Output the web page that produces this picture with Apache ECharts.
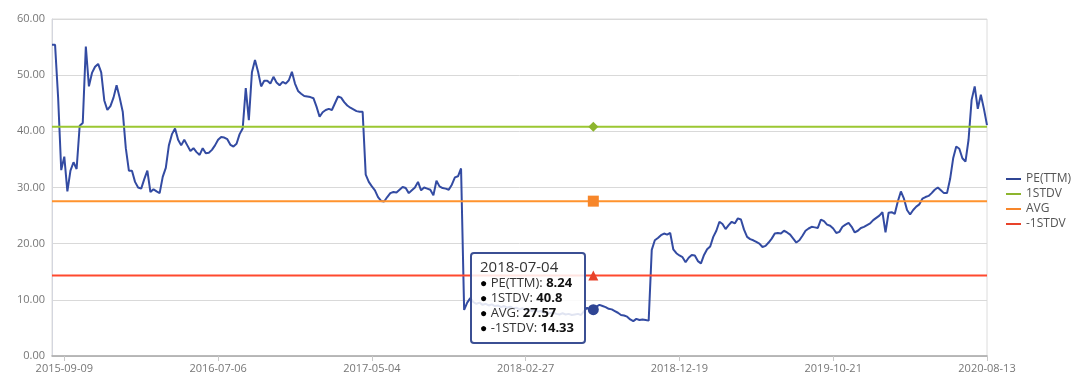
<!DOCTYPE html>
<html><head><meta charset="utf-8">
<script src="https://cdn.jsdelivr.net/npm/echarts@6/dist/echarts.min.js"></script>
<style>html,body{margin:0;padding:0;background:#fff}#c{width:1080px;height:385px}</style>
</head><body><div id="c"></div>
<script>
const dates = [
'2015-08-18','2015-08-24','2015-08-28','2015-09-02','2015-09-09','2015-09-15','2015-09-21','2015-09-27','2015-10-03','2015-10-09',
'2015-10-15','2015-10-21','2015-10-27','2015-11-02','2015-11-08','2015-11-14','2015-11-20','2015-11-26','2015-12-02','2015-12-08',
'2015-12-14','2015-12-20','2015-12-26','2016-01-01','2016-01-07','2016-01-13','2016-01-19','2016-01-25','2016-01-31','2016-02-06',
'2016-02-12','2016-02-18','2016-02-24','2016-03-01','2016-03-07','2016-03-13','2016-03-19','2016-03-25','2016-03-31','2016-04-06',
'2016-04-12','2016-04-18','2016-04-24','2016-04-30','2016-05-06','2016-05-12','2016-05-18','2016-05-24','2016-05-30','2016-06-05',
'2016-06-11','2016-06-17','2016-06-23','2016-06-29','2016-07-06','2016-07-12','2016-07-18','2016-07-24','2016-07-30','2016-08-05',
'2016-08-11','2016-08-17','2016-08-23','2016-08-29','2016-09-04','2016-09-10','2016-09-16','2016-09-22','2016-09-28','2016-10-04',
'2016-10-10','2016-10-16','2016-10-22','2016-10-28','2016-11-03','2016-11-09','2016-11-15','2016-11-21','2016-11-27','2016-12-03',
'2016-12-09','2016-12-15','2016-12-21','2016-12-27','2017-01-02','2017-01-08','2017-01-14','2017-01-20','2017-01-26','2017-02-01',
'2017-02-07','2017-02-13','2017-02-19','2017-02-25','2017-03-03','2017-03-09','2017-03-15','2017-03-21','2017-03-27','2017-04-02',
'2017-04-08','2017-04-14','2017-04-20','2017-04-26','2017-05-04','2017-05-10','2017-05-16','2017-05-22','2017-05-28','2017-06-03',
'2017-06-09','2017-06-15','2017-06-21','2017-06-27','2017-07-03','2017-07-09','2017-07-15','2017-07-21','2017-07-27','2017-08-02',
'2017-08-08','2017-08-14','2017-08-20','2017-08-26','2017-09-01','2017-09-07','2017-09-13','2017-09-19','2017-09-25','2017-10-01',
'2017-10-07','2017-10-13','2017-10-19','2017-10-25','2017-10-31','2017-11-06','2017-11-12','2017-11-18','2017-11-24','2017-11-30',
'2017-12-06','2017-12-12','2017-12-18','2017-12-24','2017-12-30','2018-01-05','2018-01-11','2018-01-17','2018-01-23','2018-01-29',
'2018-02-04','2018-02-10','2018-02-16','2018-02-22','2018-02-27','2018-03-05','2018-03-11','2018-03-17','2018-03-23','2018-03-29',
'2018-04-04','2018-04-10','2018-04-16','2018-04-22','2018-04-28','2018-05-04','2018-05-10','2018-05-16','2018-05-22','2018-05-28',
'2018-06-03','2018-06-09','2018-06-14','2018-06-19','2018-06-24','2018-06-29','2018-07-04','2018-07-10','2018-07-16','2018-07-22',
'2018-07-28','2018-08-03','2018-08-09','2018-08-15','2018-08-21','2018-08-27','2018-09-02','2018-09-08','2018-09-14','2018-09-20',
'2018-09-26','2018-10-02','2018-10-08','2018-10-14','2018-10-20','2018-10-26','2018-11-01','2018-11-07','2018-11-13','2018-11-19',
'2018-11-25','2018-12-01','2018-12-07','2018-12-13','2018-12-19','2018-12-25','2018-12-31','2019-01-06','2019-01-12','2019-01-18',
'2019-01-24','2019-01-30','2019-02-05','2019-02-11','2019-02-17','2019-02-23','2019-03-01','2019-03-07','2019-03-13','2019-03-19',
'2019-03-25','2019-03-31','2019-04-06','2019-04-12','2019-04-18','2019-04-24','2019-04-30','2019-05-06','2019-05-12','2019-05-18',
'2019-05-24','2019-05-30','2019-06-05','2019-06-11','2019-06-17','2019-06-23','2019-06-29','2019-07-05','2019-07-11','2019-07-17',
'2019-07-23','2019-07-29','2019-08-04','2019-08-10','2019-08-16','2019-08-22','2019-08-28','2019-09-03','2019-09-09','2019-09-16',
'2019-09-23','2019-09-30','2019-10-07','2019-10-14','2019-10-21','2019-10-27','2019-11-02','2019-11-08','2019-11-14','2019-11-20',
'2019-11-26','2019-12-02','2019-12-08','2019-12-14','2019-12-20','2019-12-26','2020-01-01','2020-01-07','2020-01-13','2020-01-19',
'2020-01-25','2020-01-31','2020-02-06','2020-02-12','2020-02-18','2020-02-24','2020-03-01','2020-03-07','2020-03-13','2020-03-19',
'2020-03-25','2020-03-31','2020-04-06','2020-04-12','2020-04-18','2020-04-24','2020-04-30','2020-05-06','2020-05-12','2020-05-18',
'2020-05-24','2020-05-30','2020-06-05','2020-06-11','2020-06-17','2020-06-23','2020-06-29','2020-07-05','2020-07-11','2020-07-17',
'2020-07-23','2020-07-29','2020-08-03','2020-08-08','2020-08-13'
];

const tickLabels = ['2015-09-09','2016-07-06','2017-05-04','2018-02-27','2018-12-19','2019-10-21','2020-08-13'];

const pe = [
55.4, 55.4, 45.9, 33.1, 35.5, 29.3, 33.0, 34.5, 33.3, 41.0,
41.5, 55.1, 48.0, 50.4, 51.5, 52.0, 50.5, 45.5, 43.8, 44.5,
46.0, 48.2, 46.0, 43.5, 37.0, 33.0, 33.0, 31.0, 30.0, 29.8,
31.5, 33.0, 29.2, 29.7, 29.3, 29.0, 31.9, 33.5, 37.5, 39.5,
40.5, 38.5, 37.5, 38.5, 37.5, 36.5, 37.0, 36.3, 35.8, 37.0,
36.1, 36.2, 36.7, 37.5, 38.5, 39.0, 38.9, 38.6, 37.6, 37.3,
37.8, 39.5, 40.5, 47.7, 42.0, 50.5, 52.7, 50.6, 48.0, 49.0,
49.0, 48.5, 49.7, 48.7, 48.2, 48.8, 48.5, 49.1, 50.6, 48.5,
47.2, 46.7, 46.3, 46.2, 46.1, 45.9, 44.4, 42.6, 43.4, 43.8,
44.0, 43.8, 45.0, 46.2, 46.0, 45.2, 44.6, 44.2, 43.9, 43.6,
43.5, 43.5, 32.3, 31.0, 30.2, 29.5, 28.3, 27.6, 27.5, 28.3,
29.0, 29.2, 29.1, 29.6, 30.1, 29.9, 29.0, 29.5, 30.0, 31.0,
29.5, 30.0, 29.8, 29.6, 28.6, 31.2, 30.2, 29.9, 29.8, 29.6,
30.5, 31.8, 32.0, 33.4, 8.2, 9.5, 10.3, 9.6, 9.3, 9.5,
9.1, 9.3, 9.0, 9.2, 8.9, 9.0, 8.7, 8.9, 8.6, 8.8,
8.5, 8.6, 8.3, 8.5, 8.2, 8.3, 8.0, 8.2, 7.9, 8.0,
7.7, 7.8, 7.6, 7.7, 7.5, 7.4, 7.6, 7.4, 7.5, 7.3,
7.4, 7.5, 7.3, 8.0, 8.6, 8.0, 8.24, 8.8, 9.1, 8.9,
8.7, 8.4, 8.3, 8.0, 7.7, 7.3, 7.2, 7.0, 6.5, 6.2,
6.6, 6.4, 6.5, 6.4, 6.3, 18.9, 20.6, 21.0, 21.5, 21.8,
21.6, 21.9, 19.0, 18.3, 17.9, 17.6, 16.7, 17.5, 18.0, 17.9,
16.9, 16.5, 18.0, 19.0, 19.5, 21.2, 22.3, 23.9, 23.5, 22.6,
23.3, 23.9, 23.6, 24.5, 24.3, 22.5, 21.2, 20.8, 20.6, 20.3,
20.0, 19.4, 19.6, 20.2, 20.9, 21.8, 21.9, 21.8, 22.3, 22.0,
21.6, 20.9, 20.2, 20.6, 21.4, 22.3, 22.7, 23.0, 22.9, 22.8,
24.3, 24.0, 23.4, 23.2, 22.7, 21.9, 22.1, 23.0, 23.4, 23.7,
23.0, 22.0, 22.3, 22.8, 23.0, 23.3, 23.6, 24.2, 24.6, 25.0,
25.6, 22.0, 25.5, 25.6, 25.3, 27.5, 29.3, 28.0, 26.0, 25.2,
26.0, 26.6, 27.0, 28.0, 28.3, 28.5, 29.0, 29.6, 30.0, 29.5,
29.0, 29.0, 31.5, 35.2, 37.3, 36.9, 35.2, 34.6, 38.5, 45.6,
48.0, 44.0, 46.5, 44.0, 41.1
];

const stdUp = 40.8;
const avgVal = 27.57;
const stdDown = 14.33;
const seriesNames = ['PE(TTM)', '1STDV', 'AVG', '-1STDV'];
const yTicks = [0, 10, 20, 30, 40, 50, 60];
const tipDate = '2018-07-04';

const colors = ['#2f4594', '#8db52e', '#f7862a', '#e8432a'];
const symbols = ['circle', 'diamond', 'rect', 'triangle'];
const seriesData = [pe, dates.map(() => stdUp), dates.map(() => avgVal), dates.map(() => stdDown)];

const chart = echarts.init(document.getElementById('c'), null, {renderer: 'canvas'});
const font = "'Open Sans', 'Noto Sans', sans-serif";
const cssFont = font.replace(/'/g, '');

chart.setOption({
  animation: false,
  backgroundColor: '#ffffff',
  grid: {left: 52, right: 93, top: 19, bottom: 29, show: true, borderColor: '#dcdcdc', borderWidth: 1},
  legend: {
    orient: 'vertical', left: 1001, top: 168,
    icon: 'rect', itemWidth: 15, itemHeight: 2, itemGap: 3,
    textStyle: {color: '#555', fontSize: 12, fontFamily: font, lineHeight: 12},
    data: seriesNames
  },
  tooltip: {
    trigger: 'axis',
    triggerOn: 'none',
    alwaysShowContent: true,
    transitionDuration: 0,
    position: [470, 252],
    backgroundColor: 'rgba(255,255,255,0.85)',
    borderColor: '#3b4f93',
    borderWidth: 2,
    padding: [3, 10, 7, 8],
    extraCssText: 'box-shadow:none;border-radius:4px;',
    axisPointer: {type: 'line', animation: false, lineStyle: {opacity: 0}},
    formatter: function (params) {
      let s = '<div style="font-family:' + cssFont + ';font-size:15px;line-height:18px;color:#333;">' + params[0].axisValue + '</div>';
      params.forEach(function (p) {
        s += '<div style="font-family:' + cssFont + ';font-size:13px;line-height:15px;color:#333;">' +
          '<span style="font-size:12px;color:#000;">\u25CF</span> ' + p.seriesName + ': <b style="color:#111">' + p.value + '</b></div>';
      });
      return s;
    }
  },
  xAxis: {
    type: 'category',
    boundaryGap: false,
    data: dates,
    axisLine: {lineStyle: {color: '#a9a9a9', width: 1.5}},
    axisTick: {alignWithLabel: true, length: 5, lineStyle: {color: '#c8c8c8'},
      interval: function (i, v) { return tickLabels.indexOf(v) >= 0; }},
    axisLabel: {
      interval: function (i, v) { return tickLabels.indexOf(v) >= 0; },
      color: '#777', fontSize: 11, fontFamily: font, margin: 7
    },
    splitLine: {show: false}
  },
  yAxis: {
    type: 'value',
    min: yTicks[0], max: yTicks[yTicks.length - 1], interval: 10,
    axisLine: {show: true, lineStyle: {color: '#d4d6de'}},
    axisTick: {show: false},
    axisLabel: {color: '#777', fontSize: 11, fontFamily: font, margin: 7,
      formatter: function (v) { return v.toFixed(2); }},
    splitLine: {lineStyle: {color: '#d9d9d9'}}
  },
  series: seriesNames.map(function (name, k) {
    return {
      name: name,
      type: 'line',
      data: seriesData[k],
      showSymbol: false,
      symbol: symbols[k],
      symbolSize: k === 0 ? 11 : (k === 2 ? 11 : 10),
      lineStyle: {color: colors[k], width: 2},
      itemStyle: {color: colors[k]},
      emphasis: {scale: false, lineStyle: {width: 2}},
      z: k === 0 ? 2 : 3
    };
  })
});

chart.dispatchAction({type: 'showTip', seriesIndex: 0, dataIndex: dates.indexOf(tipDate)});
</script>
</body></html>
